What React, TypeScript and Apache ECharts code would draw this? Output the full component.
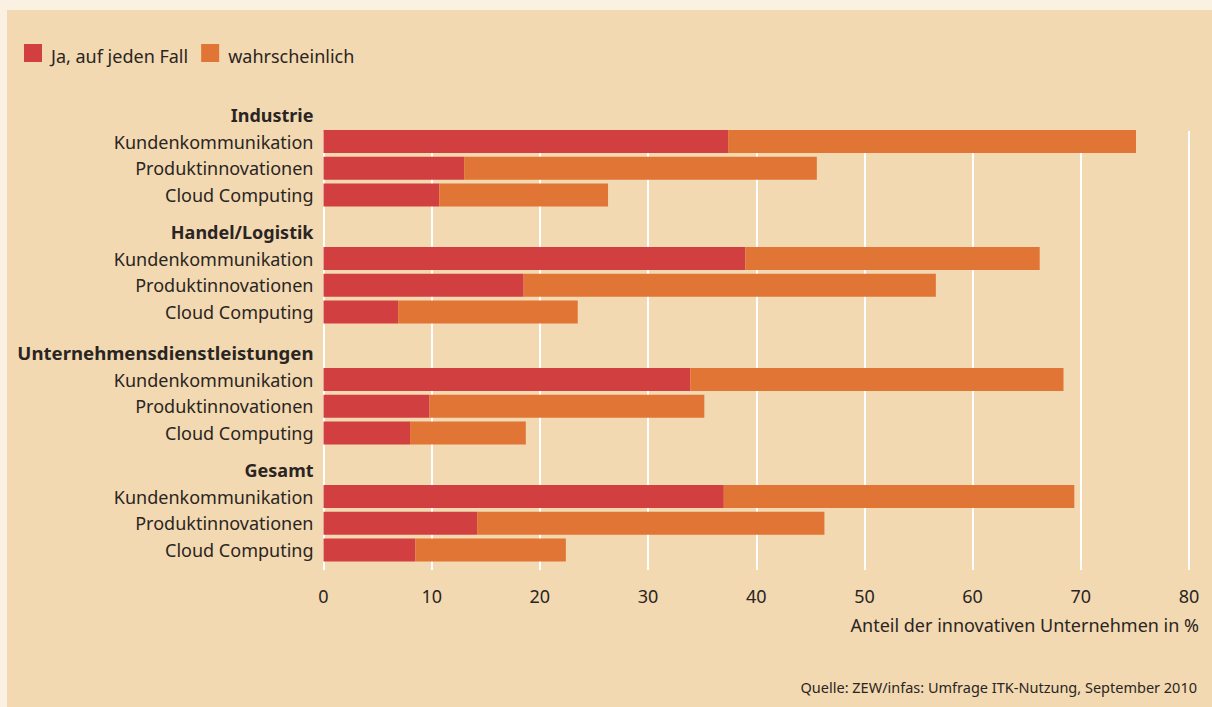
import React, { useEffect, useRef } from "react";
import * as echarts from "echarts";

const groups = ["Industrie", "Handel/Logistik", "Unternehmensdienstleistungen", "Gesamt"];
const items = ["Kundenkommunikation", "Produktinnovationen", "Cloud Computing"];
const seriesNames = ["Ja, auf jeden Fall", "wahrscheinlich"];
// "Ja, auf jeden Fall" share (%) per group, per item
const jaValues = [
  [37.4, 13.0, 10.7],
  [39.0, 18.5, 6.9],
  [33.9, 9.8, 8.0],
  [37.0, 14.2, 8.5],
];
// "wahrscheinlich" share (%) per group, per item
const wahrValues = [
  [37.7, 32.6, 15.6],
  [27.2, 38.1, 16.6],
  [34.5, 25.4, 10.7],
  [32.4, 32.1, 13.9],
];
const xTicks = [0, 80, 10]; // min, max, interval
const axisTitle = "Anteil der innovativen Unternehmen in %";
const sourceText = "Quelle: ZEW/infas: Umfrage ITK-Nutzung, September 2010";

const RED = "#d23f41";
const ORANGE = "#e07536";
const TXT = "#2a2523";
const FONT = "'Noto Sans', sans-serif";

export default function App() {
  const ref = useRef<HTMLDivElement>(null);

  useEffect(() => {
    document.body.style.margin = "0";
    if (!ref.current) return;
    const chart = echarts.init(ref.current, undefined, { renderer: "svg" });

    const LEFT = 323.5;
    const RIGHT = 23;
    const groupTops = [101.5, 218.5, 339.5, 456.5];
    const groupHeight = 106.8;

    const grid: any[] = groups.map((_, g) => ({
      left: LEFT,
      right: RIGHT,
      top: groupTops[g],
      height: groupHeight,
      containLabel: false,
    }));
    grid.push({ left: LEFT, right: RIGHT, top: 131, height: 439 });

    const xAxis: any[] = groups.map((_, g) => ({
      type: "value",
      gridIndex: g,
      min: xTicks[0],
      max: xTicks[1],
      interval: xTicks[2],
      show: false,
    }));
    xAxis.push({
      type: "value",
      gridIndex: groups.length,
      min: xTicks[0],
      max: xTicks[1],
      interval: xTicks[2],
      axisLine: { show: false },
      axisTick: { show: false },
      splitLine: { show: true, lineStyle: { color: "#ffffff", width: 2 } },
      axisLabel: { fontSize: 18, color: TXT, margin: 17, fontFamily: FONT },
      name: axisTitle,
      nameLocation: "end",
      nameGap: 10,
      nameTextStyle: {
        fontSize: 18,
        color: TXT,
        fontFamily: FONT,
        align: "right",
        verticalAlign: "top",
        padding: [46, 0, 0, 0],
      },
    });

    const yAxis: any[] = groups.map((name, g) => ({
      type: "category",
      gridIndex: g,
      inverse: true,
      data: [
        { value: name, textStyle: { fontWeight: "bold", fontSize: g === 2 ? 18.6 : 18 } },
        ...items.map((it) => ({ value: it })),
      ],
      axisLine: { show: false },
      axisTick: { show: false },
      splitLine: { show: false },
      axisLabel: { fontSize: 18, color: TXT, margin: 10, fontFamily: FONT },
    }));
    yAxis.push({ type: "value", gridIndex: groups.length, show: false });

    const series: any[] = [];
    groups.forEach((_, g) => {
      series.push({
        name: seriesNames[0],
        type: "bar",
        stack: "s" + g,
        xAxisIndex: g,
        yAxisIndex: g,
        barWidth: 23,
        itemStyle: { color: RED },
        data: [null, ...jaValues[g]],
      });
      series.push({
        name: seriesNames[1],
        type: "bar",
        stack: "s" + g,
        xAxisIndex: g,
        yAxisIndex: g,
        barWidth: 23,
        itemStyle: { color: ORANGE },
        data: [null, ...wahrValues[g]],
      });
    });

    chart.setOption({
      animation: false,
      color: [RED, ORANGE],
      textStyle: { fontFamily: FONT },
      legend: {
        data: seriesNames,
        left: 24,
        top: 44,
        padding: 0,
        itemWidth: 18,
        itemHeight: 18,
        itemGap: 13,
        icon: "rect",
        formatter: (name: string) => `{t|${name}}`,
        textStyle: {
          fontSize: 18,
          color: TXT,
          fontFamily: FONT,
          rich: {
            t: { fontSize: 18, color: TXT, fontFamily: FONT, padding: [6, 0, 0, 4] },
          },
        },
        selectedMode: false,
      },
      grid,
      xAxis,
      yAxis,
      series,
      graphic: [
        {
          type: "text",
          right: 15,
          top: 679,
          style: { text: sourceText, fontSize: 14.5, fill: TXT, fontFamily: FONT },
        },
      ],
    });

    return () => chart.dispose();
  }, []);

  return (
    <div style={{ position: "relative", width: 1212, height: 707, background: "#faf1e3", overflow: "hidden" }}>
      <div style={{ position: "absolute", left: 7, top: 10, right: 0, bottom: 0, background: "#f2d9b1" }} />
      <div ref={ref} style={{ position: "absolute", left: 0, top: 0, width: 1212, height: 707 }} />
    </div>
  );
}
